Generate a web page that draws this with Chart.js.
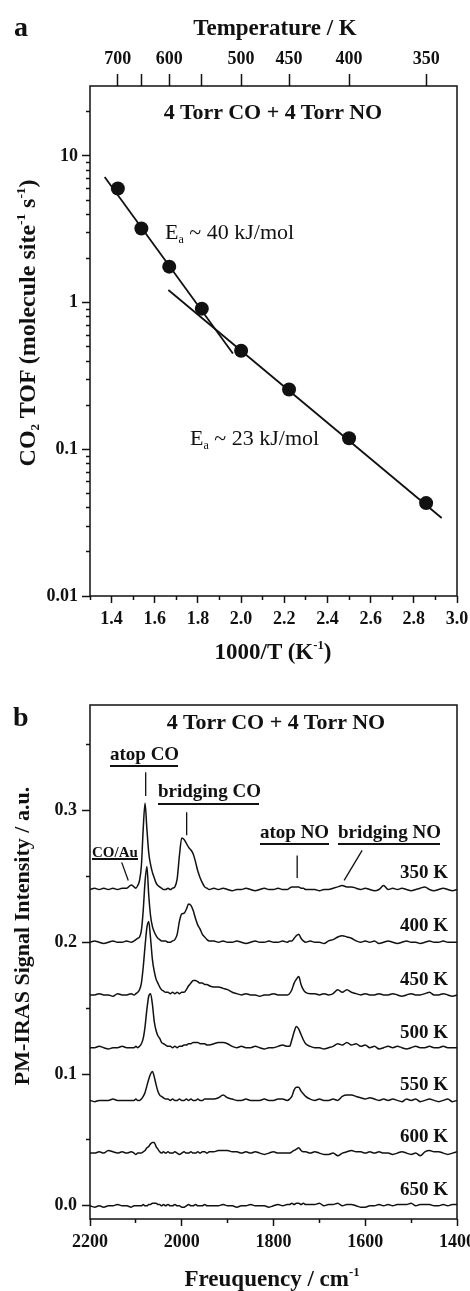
<!DOCTYPE html>
<html lang="en">
<head>
<meta charset="UTF-8">
<title>CO + NO on Pd: Arrhenius plot and PM-IRAS spectra</title>
<style>
  body { margin: 0; padding: 0; background: #fff; }
  #page {
    position: relative; width: 470px; height: 1291px; overflow: hidden;
    font-family: 'Liberation Serif', 'Times New Roman', serif; color: #111;
  }
  canvas { position: absolute; left: 0; }
  #chartA { top: 0; }
  #chartB { top: 680px; }
  .lbl { position: absolute; white-space: nowrap; line-height: 1; font-weight: bold; }
  .c { transform: translate(-50%, -50%); }
  .l { transform: translateY(-50%); }
  .r { transform: translate(-100%, -50%); }
  .rot { transform: translate(-50%, -50%) rotate(-90deg); }
  .reg { font-weight: normal; }
  .rule { position: absolute; height: 0; border-top: 2px solid #111; }
  sup, sub { font-size: 55%; line-height: 0; }
  sup { vertical-align: 0.75em; }
  sub { vertical-align: -0.3em; }
</style>
</head>
<body>
<div id="page">
  <canvas id="chartA" width="470" height="680"></canvas>
  <canvas id="chartB" width="470" height="611"></canvas>

  <!-- panel a texts -->
  <div class="lbl l" style="left:14px; top:27px; font-size:28px;">a</div>
  <div class="lbl c" style="left:275px; top:27px; font-size:23px;">Temperature / K</div>
  <div class="lbl c" style="left:273px; top:112px; font-size:22px;">4 Torr CO + 4 Torr NO</div>
  <div class="lbl l reg" style="left:165px; top:232px; font-size:22px;">E<sub>a</sub> ~ 40 kJ/mol</div>
  <div class="lbl l reg" style="left:190px; top:438px; font-size:22px;">E<sub>a</sub> ~ 23 kJ/mol</div>
  <div class="lbl rot" style="left:27px; top:323px; font-size:24px;">CO<sub>2</sub> TOF (molecule site<sup>-1</sup> s<sup>-1</sup>)</div>
  <div class="lbl c" style="left:273px; top:651px; font-size:23px;">1000/T (K<sup>-1</sup>)</div>

  <!-- panel b texts -->
  <div class="lbl l" style="left:13px; top:717px; font-size:28px;">b</div>
  <div class="lbl c" style="left:276px; top:722px; font-size:22px;">4 Torr CO + 4 Torr NO</div>
  <div class="lbl l" style="left:110px; top:753px; font-size:19px;">atop CO</div>
  <div class="rule" style="left:110px; top:765px; width:68px;"></div>
  <div class="lbl l" style="left:158px; top:790px; font-size:19px;">bridging CO</div>
  <div class="rule" style="left:158px; top:803px; width:101px;"></div>
  <div class="lbl l" style="left:260px; top:831px; font-size:19px;">atop NO</div>
  <div class="rule" style="left:260px; top:843px; width:69px;"></div>
  <div class="lbl l" style="left:338px; top:831px; font-size:19px;">bridging NO</div>
  <div class="rule" style="left:338px; top:843px; width:102px;"></div>
  <div class="lbl l" style="left:92px; top:852px; font-size:15px;">CO/Au</div>
  <div class="rule" style="left:92px; top:858px; width:46px;"></div>
  <div class="lbl r" style="left:448px; top:871px; font-size:19px;">350 K</div>
  <div class="lbl r" style="left:448px; top:924px; font-size:19px;">400 K</div>
  <div class="lbl r" style="left:448px; top:978px; font-size:19px;">450 K</div>
  <div class="lbl r" style="left:448px; top:1031px; font-size:19px;">500 K</div>
  <div class="lbl r" style="left:448px; top:1083px; font-size:19px;">550 K</div>
  <div class="lbl r" style="left:448px; top:1135px; font-size:19px;">600 K</div>
  <div class="lbl r" style="left:448px; top:1188px; font-size:19px;">650 K</div>
  <div class="lbl rot" style="left:22px; top:936px; font-size:22px;">PM-IRAS Signal Intensity / a.u.</div>
  <div class="lbl c" style="left:272px; top:1278px; font-size:23px;">Freuquency / cm<sup>-1</sup></div>
</div>

<script src="https://cdn.jsdelivr.net/npm/chart.js"></script>
<script>
// ---------- panel a data: CO2 turnover vs 1000/T ----------
const invT = [1.429, 1.538, 1.667, 1.818, 2.000, 2.222, 2.500, 2.857];
const tof = [6.0, 3.2, 1.76, 0.91, 0.47, 0.256, 0.119, 0.043];
// end points of the two Arrhenius fits [1000/T, TOF]
const fitHigh = [[1.368, 7.2], [1.962, 0.45]];
const fitLow = [[1.663, 1.22], [2.929, 0.034]];

const invTMajor = [1.4, 1.6, 1.8, 2.0, 2.2, 2.4, 2.6, 2.8, 3.0];
const invTMinor = [1.3, 1.5, 1.7, 1.9, 2.1, 2.3, 2.5, 2.7, 2.9];
const tofMajor = [0.01, 0.1, 1, 10];
const tofMinor = [0.02, 0.03, 0.04, 0.05, 0.06, 0.07, 0.08, 0.09,
                  0.2, 0.3, 0.4, 0.5, 0.6, 0.7, 0.8, 0.9,
                  2, 3, 4, 5, 6, 7, 8, 9, 20];
const tempTicks = [700, 650, 600, 550, 500, 450, 400, 350];
const tempLabels = ['700', '', '600', '', '500', '450', '400', '350'];

// ---------- panel b data: PM-IRAS spectra ----------
const freq = [
  2200, 2190, 2180, 2170, 2160, 2150, 2140, 2130, 2120, 2110,
  2104, 2100, 2096, 2092, 2088, 2084, 2080, 2076, 2072, 2068, 2064, 2060, 2056, 2052, 2048, 2044, 2040,
  2035, 2030, 2025, 2020, 2015, 2010, 2005, 2000, 1995, 1990, 1985, 1980, 1975, 1970, 1965, 1960, 1955, 1950, 1945, 1940,
  1930, 1920, 1910, 1900, 1890, 1880, 1870, 1860, 1850, 1840, 1830, 1820, 1810, 1800, 1790, 1780,
  1770, 1765, 1760, 1755, 1750, 1745, 1740, 1735, 1730,
  1720, 1710, 1700, 1690, 1680, 1670, 1660, 1650, 1640, 1630, 1620, 1610, 1600, 1590, 1580, 1570, 1560,
  1550, 1540, 1530, 1520, 1510, 1500, 1490, 1480, 1470, 1460, 1450, 1440, 1430, 1420, 1410, 1400
];
const temps = ['350 K', '400 K', '450 K', '500 K', '550 K', '600 K', '650 K'];
const offsets = [0.24, 0.20, 0.16, 0.12, 0.08, 0.04, 0.00];

const s350 = [
  0.000, 0.001, 0.000, 0.001, 0.000, 0.001, 0.000, 0.001, 0.001, 0.0035,
  0.002, 0.001, 0.003, 0.007, 0.018, 0.046, 0.0655, 0.046, 0.028, 0.019, 0.013, 0.009, 0.005, 0.003, 0.002, 0.001, 0.000,
  0.000, 0.001, 0.000, 0.001, 0.002, 0.008, 0.026, 0.039, 0.038, 0.035, 0.032, 0.030, 0.027, 0.021, 0.014, 0.009, 0.005, 0.002, 0.001, 0.000,
  0.001, 0.000, 0.001, 0.000, -0.001, 0.000, 0.000, 0.001, 0.000, -0.001, 0.000, 0.001, 0.000, 0.000, 0.001, 0.000,
  0.000, 0.001, 0.002, 0.002, 0.002, 0.002, 0.001, 0.001, 0.000,
  0.000, 0.000, -0.001, 0.000, 0.000, 0.001, 0.002, 0.003, 0.002, 0.002, 0.001, 0.000, 0.001, 0.000, -0.001, 0.000, 0.003,
  0.000, 0.001, 0.000, 0.001, 0.000, -0.001, 0.000, 0.001, 0.002, 0.000, -0.001, 0.000, 0.001, 0.000, -0.001, 0.000
];
const s400 = [
  0.000, 0.001, 0.000, -0.001, 0.000, 0.001, 0.000, 0.000, 0.001, 0.000,
  0.001, 0.002, 0.003, 0.004, 0.009, 0.024, 0.046, 0.0575, 0.036, 0.020, 0.012, 0.008, 0.005, 0.003, 0.002, 0.001, 0.001,
  0.001, 0.000, 0.000, 0.001, 0.002, 0.006, 0.016, 0.0215, 0.022, 0.025, 0.029, 0.028, 0.024, 0.018, 0.013, 0.010, 0.006, 0.004, 0.002, 0.001,
  0.001, 0.000, 0.001, 0.000, 0.000, 0.001, 0.000, -0.001, 0.000, 0.001, 0.000, 0.000, 0.001, 0.000, 0.000, 0.001,
  0.000, 0.001, 0.001, 0.003, 0.005, 0.006, 0.003, 0.001, 0.000,
  0.001, 0.000, 0.000, -0.001, 0.001, 0.002, 0.004, 0.005, 0.004, 0.003, 0.001, 0.000, 0.001, 0.000, 0.001, -0.001, 0.000,
  0.001, 0.000, -0.001, 0.000, 0.001, 0.000, 0.000, -0.001, 0.000, 0.001, 0.000, 0.000, 0.001, 0.000, 0.000, 0.000
];
const s450 = [
  0.000, 0.000, 0.001, 0.000, 0.000, -0.001, 0.001, 0.000, 0.000, 0.001,
  0.000, 0.001, 0.002, 0.004, 0.009, 0.021, 0.037, 0.051, 0.0557, 0.043, 0.027, 0.018, 0.012, 0.009, 0.006, 0.004, 0.003,
  0.002, 0.002, 0.001, 0.002, 0.001, 0.002, 0.001, 0.002, 0.002, 0.004, 0.007, 0.009, 0.011, 0.011, 0.010, 0.009, 0.009, 0.008, 0.008, 0.007,
  0.006, 0.006, 0.005, 0.004, 0.002, 0.001, 0.000, 0.001, 0.000, 0.000, -0.001, 0.000, 0.000, 0.001, 0.000, 0.000,
  0.000, 0.001, 0.004, 0.009, 0.012, 0.014, 0.008, 0.004, 0.002,
  0.001, 0.001, 0.000, 0.001, 0.000, 0.001, 0.004, 0.002, 0.004, 0.002, 0.001, 0.000, 0.001, 0.000, 0.000, 0.001, 0.000,
  0.000, 0.001, 0.000, -0.001, 0.000, 0.001, 0.000, 0.000, 0.001, 0.002, 0.000, 0.000, 0.001, 0.000, -0.001, 0.000
];
const s500 = [
  0.000, 0.000, 0.001, 0.000, -0.001, 0.000, 0.000, 0.001, 0.000, 0.000,
  0.000, 0.001, 0.000, 0.001, 0.003, 0.007, 0.016, 0.029, 0.039, 0.041, 0.033, 0.020, 0.013, 0.009, 0.007, 0.004, 0.003,
  0.002, 0.001, 0.001, 0.000, 0.001, 0.000, 0.001, 0.001, 0.002, 0.002, 0.003, 0.003, 0.004, 0.004, 0.004, 0.003, 0.003, 0.003, 0.002, 0.002,
  0.003, 0.004, 0.004, 0.003, 0.001, 0.000, 0.001, 0.000, 0.000, 0.001, 0.000, -0.001, 0.000, 0.000, 0.001, 0.002,
  0.001, 0.001, 0.006, 0.012, 0.016, 0.014, 0.010, 0.006, 0.003,
  0.001, 0.000, 0.000, -0.001, 0.000, 0.001, 0.003, 0.002, 0.004, 0.002, 0.003, 0.001, 0.002, 0.000, 0.001, -0.001, 0.000,
  0.001, 0.000, 0.001, 0.000, -0.001, 0.000, 0.001, 0.000, 0.000, 0.001, 0.000, 0.000, 0.001, 0.000, 0.000, 0.000
];
const s550 = [
  0.000, -0.001, 0.000, 0.000, 0.000, 0.001, 0.000, 0.000, 0.000, 0.000,
  0.000, 0.001, 0.000, 0.000, 0.001, 0.003, 0.006, 0.011, 0.016, 0.020, 0.022, 0.018, 0.012, 0.007, 0.004, 0.003, 0.002,
  0.001, 0.001, 0.000, 0.001, 0.000, 0.000, 0.001, 0.000, 0.000, 0.001, 0.000, 0.001, 0.000, 0.000, 0.001, 0.000, 0.000, 0.001, 0.001, 0.001,
  0.001, 0.002, 0.004, 0.002, 0.001, 0.000, 0.000, 0.001, 0.000, 0.000, 0.000, 0.001, 0.000, 0.000, 0.001, 0.001,
  0.000, 0.001, 0.003, 0.008, 0.010, 0.010, 0.007, 0.005, 0.003,
  0.001, 0.000, 0.001, 0.000, 0.000, 0.001, 0.000, 0.003, 0.004, 0.004, 0.003, 0.002, 0.001, 0.002, 0.001, 0.000, 0.001,
  0.000, 0.001, 0.000, -0.001, 0.001, 0.000, 0.001, -0.001, 0.000, 0.001, 0.000, -0.001, 0.000, 0.001, -0.001, 0.000
];
const s600 = [
  0.000, 0.000, 0.001, 0.000, 0.002, 0.001, 0.000, 0.001, 0.000, 0.001,
  0.000, -0.001, 0.000, 0.000, 0.000, 0.001, 0.002, 0.004, 0.005, 0.007, 0.008, 0.008, 0.005, 0.003, 0.001, 0.000, 0.001,
  0.000, 0.001, 0.000, 0.000, 0.001, 0.000, -0.001, 0.000, 0.001, 0.000, 0.000, 0.001, 0.000, 0.000, 0.001, 0.000, 0.001, 0.001, 0.000, 0.001,
  0.001, 0.002, 0.002, 0.002, 0.001, 0.001, 0.000, 0.001, 0.000, 0.001, 0.000, -0.001, 0.000, 0.001, 0.000, 0.000,
  0.000, 0.000, 0.001, 0.002, 0.003, 0.004, 0.002, 0.001, 0.001,
  0.000, 0.001, 0.000, -0.001, -0.001, 0.000, -0.002, 0.000, 0.001, 0.002, 0.001, 0.001, 0.000, 0.001, 0.000, 0.001, 0.000,
  0.000, -0.001, 0.000, 0.001, 0.000, -0.001, 0.000, -0.002, 0.001, 0.002, 0.001, 0.001, 0.000, -0.001, 0.000, 0.001
];
const s650 = [
  0.000, -0.001, 0.000, -0.001, 0.000, 0.000, 0.001, 0.000, 0.000, -0.001,
  0.000, 0.000, 0.000, 0.000, 0.000, 0.001, 0.000, 0.000, 0.001, 0.001, 0.002, 0.002, 0.002, 0.001, 0.001, 0.000, 0.001,
  0.000, 0.001, 0.000, 0.000, 0.001, 0.000, 0.000, -0.001, -0.001, 0.000, 0.001, 0.000, 0.000, 0.001, 0.000, 0.000, 0.000, 0.001, 0.000, 0.000,
  0.000, 0.000, 0.001, 0.000, 0.000, -0.001, 0.000, 0.000, 0.001, 0.000, 0.000, 0.000, -0.001, 0.000, 0.001, 0.000,
  0.001, 0.001, 0.002, 0.001, 0.002, 0.002, 0.001, 0.002, 0.001,
  0.001, 0.001, 0.002, 0.000, 0.001, 0.001, 0.002, 0.000, 0.001, 0.001, 0.000, -0.001, -0.001, 0.000, 0.000, 0.001, 0.000,
  0.001, 0.000, 0.001, 0.001, 0.001, 0.002, 0.000, 0.001, 0.001, 0.001, 0.000, 0.000, 0.001, 0.000, 0.001, 0.001
];
const spectra = [s350, s400, s450, s500, s550, s600, s650];

// little pointer lines from the band labels down to the peaks [cm-1, a.u.]
const pointers = [
  [[2078.6, 0.329], [2078.6, 0.311]],   // atop CO
  [[1989.3, 0.2986], [1989.3, 0.2811]], // bridging CO
  [[1748.4, 0.2659], [1748.4, 0.2487]], // atop NO
  [[1606.8, 0.2697], [1646.0, 0.2469]], // bridging NO
  [[2130.9, 0.2606], [2116.6, 0.2469]]  // CO/Au
];

const freqMajor = [2200, 2000, 1800, 1600, 1400];
const freqMinor = [2100, 1900, 1700, 1500];
const intMajor = [0.0, 0.1, 0.2, 0.3];
const intMinor = [0.05, 0.15, 0.25, 0.35];

// ---------- shared styling ----------
const ink = '#111';
const serif = "'Liberation Serif', 'Times New Roman', serif";
const tickFont = { family: serif, size: 18, weight: 'bold' };

// force the ticks to exactly the listed values
function fixTicks(values) {
  return scale => { scale.ticks = values.map(v => ({ value: v })); };
}
// pin the axis box size so the plot area lands where it should
function fixSize(prop, size) {
  return scale => {
    scale[prop] = size;
    scale.paddingLeft = scale.paddingRight = scale.paddingTop = scale.paddingBottom = 0;
  };
}
function tickGrid(len) {
  return { drawOnChartArea: false, drawTicks: true, tickLength: len, tickWidth: 1.5, tickColor: ink };
}

// plain rectangle around the plot area
const frame = {
  id: 'frame',
  afterDraw(chart) {
    const { ctx, chartArea: a } = chart;
    ctx.save();
    ctx.strokeStyle = ink;
    ctx.lineWidth = 1.5;
    ctx.strokeRect(a.left, a.top, a.right - a.left, a.bottom - a.top);
    ctx.restore();
  }
};

const pairs = arr => arr.map(p => ({ x: p[0], y: p[1] }));

// ---------- chart a ----------
new Chart(document.getElementById('chartA'), {
  type: 'line',
  data: {
    datasets: [
      { data: pairs(fitHigh), borderColor: ink, borderWidth: 1.8, pointRadius: 0, xAxisID: 'x', yAxisID: 'y' },
      { data: pairs(fitLow), borderColor: ink, borderWidth: 1.8, pointRadius: 0, xAxisID: 'x', yAxisID: 'y' },
      {
        data: invT.map((x, i) => ({ x: x, y: tof[i] })),
        showLine: false, pointRadius: 7, pointBackgroundColor: ink, pointBorderWidth: 0,
        xAxisID: 'x', yAxisID: 'y'
      }
    ]
  },
  options: {
    responsive: false,
    animation: false,
    devicePixelRatio: 1,
    layout: { padding: { left: 0, right: 13, top: 0, bottom: 0 } },
    plugins: { legend: { display: false }, tooltip: { enabled: false } },
    scales: {
      x: {
        type: 'linear', position: 'bottom', min: 1.3, max: 3.0, weight: 1,
        afterBuildTicks: fixTicks(invTMajor), afterFit: fixSize('height', 84),
        grid: tickGrid(7), border: { display: false },
        ticks: { autoSkip: false, maxRotation: 0, padding: 6, color: ink, font: tickFont, callback: v => v.toFixed(1) }
      },
      xMinor: {
        type: 'linear', position: 'bottom', min: 1.3, max: 3.0, weight: 0,
        afterBuildTicks: fixTicks(invTMinor), afterFit: fixSize('height', 0),
        grid: tickGrid(4), border: { display: false }, ticks: { display: false, autoSkip: false }
      },
      xT: {
        type: 'linear', position: 'top', min: 1.3, max: 3.0,
        afterBuildTicks: s => { s.ticks = tempTicks.map(t => ({ value: 1000 / t })); },
        afterFit: fixSize('height', 86),
        grid: tickGrid(12), border: { display: false },
        ticks: { autoSkip: false, maxRotation: 0, padding: 4, color: ink, font: tickFont, callback: (v, i) => tempLabels[i] }
      },
      y: {
        type: 'logarithmic', position: 'left', min: 0.01, max: 30, weight: 1,
        afterBuildTicks: fixTicks(tofMajor), afterFit: fixSize('width', 90),
        grid: tickGrid(8), border: { display: false },
        ticks: { autoSkip: false, padding: 4, color: ink, font: tickFont, callback: v => String(v) }
      },
      yMinor: {
        type: 'logarithmic', position: 'left', min: 0.01, max: 30, weight: 0,
        afterBuildTicks: fixTicks(tofMinor), afterFit: fixSize('width', 0),
        grid: tickGrid(4), border: { display: false }, ticks: { display: false, autoSkip: false }
      }
    }
  },
  plugins: [frame]
});

// ---------- chart b ----------
const specSets = spectra.map((vals, k) => ({
  label: temps[k],
  data: freq.map((f, i) => ({ x: f, y: offsets[k] + vals[i] })),
  borderColor: ink, borderWidth: 1.5, pointRadius: 0,
  cubicInterpolationMode: 'monotone',
  xAxisID: 'x', yAxisID: 'y'
}));
const pointerSets = pointers.map(seg => ({
  data: pairs(seg), borderColor: ink, borderWidth: 1.3, pointRadius: 0, xAxisID: 'x', yAxisID: 'y'
}));

new Chart(document.getElementById('chartB'), {
  type: 'line',
  data: { datasets: specSets.concat(pointerSets) },
  options: {
    responsive: false,
    animation: false,
    devicePixelRatio: 1,
    layout: { padding: { left: 0, right: 13, top: 25, bottom: 0 } },
    plugins: { legend: { display: false }, tooltip: { enabled: false } },
    scales: {
      x: {
        type: 'linear', position: 'bottom', min: 1400, max: 2200, reverse: true, weight: 1,
        afterBuildTicks: fixTicks(freqMajor), afterFit: fixSize('height', 72),
        grid: tickGrid(7), border: { display: false },
        ticks: { autoSkip: false, maxRotation: 0, padding: 6, color: ink, font: tickFont, callback: v => String(v) }
      },
      xMinor: {
        type: 'linear', position: 'bottom', min: 1400, max: 2200, reverse: true, weight: 0,
        afterBuildTicks: fixTicks(freqMinor), afterFit: fixSize('height', 0),
        grid: tickGrid(4), border: { display: false }, ticks: { display: false, autoSkip: false }
      },
      y: {
        type: 'linear', position: 'left', min: -0.01, max: 0.38, weight: 1,
        afterBuildTicks: fixTicks(intMajor), afterFit: fixSize('width', 90),
        grid: tickGrid(8), border: { display: false },
        ticks: { autoSkip: false, padding: 5, color: ink, font: tickFont, callback: v => v.toFixed(1) }
      },
      yMinor: {
        type: 'linear', position: 'left', min: -0.01, max: 0.38, weight: 0,
        afterBuildTicks: fixTicks(intMinor), afterFit: fixSize('width', 0),
        grid: tickGrid(4), border: { display: false }, ticks: { display: false, autoSkip: false }
      }
    }
  },
  plugins: [frame]
});
</script>
</body>
</html>
